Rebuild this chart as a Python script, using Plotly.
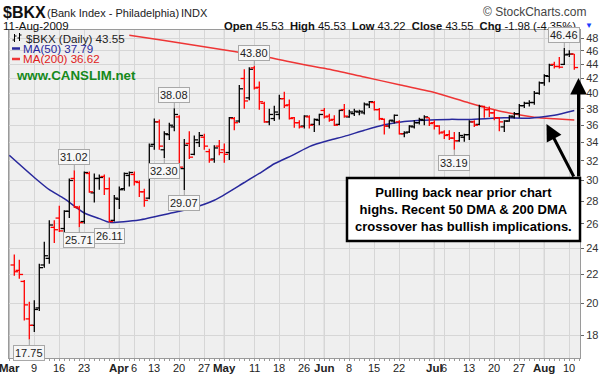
import math
import pandas as pd
import plotly.graph_objects as go

# ---------------- data ----------------
HOLIDAYS = ["2009-04-10", "2009-05-25", "2009-07-03"]
DATES = [d.strftime("%Y-%m-%d") for d in pd.bdate_range("2009-03-03", "2009-08-11")
         if d.strftime("%Y-%m-%d") not in HOLIDAYS]

OPEN = [22.7, 22.3, 21.5, 19.0, 18.6, 19.7, 22.7, 23.2, 25.7, 26.5,
        25.6, 27.1, 30.2, 27.4, 26.2, 30.7, 28.8, 30.2, 30.4, 29.2,
        26.3, 28.2, 29.2, 30.5, 30.6, 29.8, 28.9, 28.3, 33.8, 36.4,
        33.2, 34.9, 35.8, 37.0, 31.2, 33.9, 32.7, 34.0, 34.6, 33.0,
        32.2, 33.6, 33.2, 32.9, 36.8, 36.5, 42.0, 39.4, 43.5, 40.8,
        38.7, 36.4, 36.8, 37.3, 39.3, 38.5, 36.9, 36.3, 35.9, 37.0,
        36.1, 36.6, 37.8, 37.1, 36.7, 36.1, 37.9, 37.0, 37.4, 37.6,
        37.5, 38.5, 38.8, 37.9, 36.7, 35.9, 36.5, 36.4, 35.0, 35.2,
        35.8, 36.3, 36.6, 36.9, 36.3, 35.9, 35.2, 34.9, 34.5, 34.2,
        34.6, 34.9, 36.4, 36.1, 38.3, 37.9, 37.5, 36.9, 35.8, 36.5,
        37.0, 37.4, 38.4, 38.7, 38.8, 40.0, 41.4, 42.3, 44.0, 43.7,
        44.0, 45.5, 45.53]
HIGH = [23.5, 23.1, 21.6, 20.1, 20.2, 22.8, 24.5, 26.3, 26.3, 27.6,
        27.2, 30.2, 31.02, 27.6, 30.9, 30.9, 30.7, 30.6, 30.6, 30.3,
        28.6, 29.4, 30.8, 30.9, 30.9, 30.0, 29.2, 33.9, 36.8, 36.7,
        35.3, 36.3, 38.08, 37.2, 34.4, 35.3, 34.8, 35.2, 35.0, 33.3,
        33.7, 34.3, 33.9, 37.0, 37.0, 41.1, 43.3, 43.6, 43.80, 41.6,
        38.9, 38.0, 38.4, 39.8, 40.2, 39.2, 37.0, 36.6, 37.2, 37.2,
        36.8, 37.4, 38.1, 37.4, 37.2, 37.9, 38.6, 37.9, 38.0, 37.9,
        38.8, 39.0, 39.0, 38.1, 36.8, 36.6, 37.3, 36.6, 35.3, 36.0,
        36.6, 36.9, 37.2, 36.9, 36.6, 36.0, 35.4, 35.4, 35.2, 35.2,
        35.0, 36.6, 36.6, 38.5, 38.4, 38.3, 37.85, 37.0, 36.6, 37.2,
        37.6, 38.6, 38.9, 39.1, 40.3, 41.6, 42.6, 44.1, 44.4, 45.1,
        46.46, 46.1, 45.53]
LOW = [21.9, 21.7, 18.9, 17.75, 18.2, 19.5, 22.5, 22.8, 24.4, 25.3,
       24.9, 26.5, 27.4, 25.71, 26.0, 28.8, 27.9, 29.1, 28.6, 26.11,
       26.2, 27.3, 29.0, 29.4, 29.5, 28.4, 27.5, 28.2, 33.2, 33.2,
       32.30, 34.3, 35.3, 31.3, 29.07, 32.2, 32.6, 33.5, 33.2, 31.8,
       31.8, 32.6, 31.8, 32.1, 35.4, 36.3, 38.0, 39.1, 40.5, 37.9,
       36.3, 36.0, 36.5, 36.7, 38.1, 36.7, 35.7, 35.6, 35.6, 35.6,
       35.2, 36.0, 36.8, 36.4, 35.9, 36.0, 36.9, 36.9, 37.1, 37.2,
       37.3, 38.1, 37.8, 36.6, 34.9, 35.6, 36.2, 34.9, 34.6, 35.1,
       35.6, 36.1, 36.0, 35.9, 35.5, 34.9, 34.4, 34.3, 33.19, 34.1,
       34.1, 34.3, 35.8, 36.0, 36.9, 37.0, 36.6, 35.3, 35.2, 36.4,
       36.8, 36.9, 38.1, 38.3, 38.5, 39.8, 41.0, 41.5, 43.4, 43.4,
       43.9, 45.1, 43.22]
CLOSE = [22.2, 22.0, 19.9, 18.6, 19.6, 22.5, 23.4, 25.9, 25.5, 25.4,
         27.1, 30.0, 27.5, 26.1, 30.8, 28.9, 30.2, 30.3, 29.2, 26.2,
         28.3, 29.1, 30.7, 30.8, 29.9, 28.9, 28.1, 33.6, 36.4, 33.6,
         35.0, 36.0, 37.3, 31.35, 33.7, 32.4, 34.3, 34.8, 33.6, 32.1,
         33.4, 32.9, 32.7, 36.9, 36.3, 40.6, 39.0, 43.3, 40.7, 38.9,
         36.4, 37.3, 37.6, 39.3, 38.4, 36.8, 36.3, 35.8, 37.1, 36.0,
         36.7, 37.3, 37.0, 36.6, 36.0, 37.8, 37.1, 37.6, 37.7, 37.7,
         38.6, 38.9, 37.9, 36.8, 35.9, 36.6, 37.2, 35.0, 35.1, 35.9,
         36.3, 36.7, 37.0, 36.2, 35.9, 35.1, 34.8, 34.5, 34.2, 34.8,
         34.9, 36.4, 36.0, 38.3, 37.9, 37.5, 36.9, 36.4, 36.5, 37.1,
         37.4, 38.4, 38.7, 38.8, 40.0, 41.4, 42.4, 43.9, 43.7, 43.6,
         45.4, 45.53, 43.55]
PREV_CLOSE = 22.8  # close of the session before the first bar

MA50_DATES = ["2009-03-02", "2009-03-09", "2009-03-12", "2009-03-17", "2009-03-23",
              "2009-03-26", "2009-03-30", "2009-04-07", "2009-04-16", "2009-04-22",
              "2009-04-29", "2009-05-07", "2009-05-12", "2009-05-15", "2009-05-21",
              "2009-05-27", "2009-06-02", "2009-06-05", "2009-06-11", "2009-06-17",
              "2009-06-23", "2009-06-29", "2009-07-07", "2009-07-13", "2009-07-22",
              "2009-07-29", "2009-08-05", "2009-08-11"]
MA50 = [32.6, 30.3, 29.1, 28.25, 26.95, 26.45, 26.13, 26.33, 26.9, 27.3,
        28.1, 29.8, 30.7, 31.7, 32.7, 33.55, 34.25, 34.7, 35.4, 36.05,
        36.45, 36.6, 36.7, 36.7, 36.9, 36.85, 37.2, 37.79]

MA200_DATES = ["2009-04-03", "2009-04-15", "2009-04-24", "2009-05-05", "2009-05-13",
               "2009-05-26", "2009-06-02", "2009-06-11", "2009-06-22", "2009-07-01",
               "2009-07-13", "2009-07-22", "2009-07-30", "2009-08-05", "2009-08-11"]
MA200 = [48.45, 47.6, 46.75, 45.9, 45.15, 43.95, 43.3, 42.2, 41.15, 40.1,
         38.75, 37.6, 36.97, 36.77, 36.62]

TICK_DATES = ["2009-03-02", "2009-03-09", "2009-03-16", "2009-03-23", "2009-04-01",
              "2009-04-06", "2009-04-13", "2009-04-20", "2009-04-27", "2009-05-01",
              "2009-05-11", "2009-05-18", "2009-05-26", "2009-06-01", "2009-06-08",
              "2009-06-15", "2009-06-22", "2009-07-01", "2009-07-06", "2009-07-13",
              "2009-07-20", "2009-07-27", "2009-08-03", "2009-08-10"]
TICK_TEXT = ["Mar", "9", "16", "23", "Apr", "6", "13", "20", "27", "May",
             "11", "18", "26", "Jun", "8", "15", "22", "Jul", "6", "13",
             "20", "27", "Aug", "10"]
PRICE_TICKS = [18, 20, 22, 24, 26, 28, 30, 32, 34, 36, 38, 40, 42, 44, 46, 48]

# labelled highs / lows
LABEL_HIGH_DATES = ["2009-03-19", "2009-04-17", "2009-05-11", "2009-08-07"]
LABEL_LOW_DATES = ["2009-03-06", "2009-03-20", "2009-03-30", "2009-04-15",
                   "2009-04-21", "2009-07-08"]

RESISTANCE = 43.80
RESISTANCE_FROM = "2009-04-29"

NOTE = "Pulling back near prior chart<br>highs. Recent 50 DMA &amp; 200 DMA<br>crossover has bullish implications."

# ---------------- helpers ----------------
def pos(ds):
    if ds in DATES:
        return DATES.index(ds)
    later = [i for i, d in enumerate(DATES) if d > ds]
    return later[0] - 1

X_MIN, X_MAX = -1.06, 113.14
Y_MIN, Y_MAX = 16.7, 49.29
PL, PR, PT, PB = 9, 580, 30, 358
def px(x): return (x - PL) / (PR - PL)
def py(y): return (PB - y) / (PB - PT)

FONT = "Liberation Sans, Arial, sans-serif"
TW = 0.75

def bar_paths(idx):
    xs, ys = [], []
    for i in idx:
        xs += [i, i, None, i - TW, i, None, i, i + TW, None]
        ys += [LOW[i], HIGH[i], None, OPEN[i], OPEN[i], None, CLOSE[i], CLOSE[i], None]
    return xs, ys

prev = [PREV_CLOSE] + CLOSE[:-1]
red_idx = [i for i in range(len(CLOSE)) if CLOSE[i] < prev[i]]
blk_idx = [i for i in range(len(CLOSE)) if CLOSE[i] >= prev[i]]

fig = go.Figure()

# moving averages
fig.add_trace(go.Scatter(x=[pos(d) for d in MA200_DATES], y=MA200, mode="lines",
                         line=dict(color="#ee3535", width=1.5, shape="spline", smoothing=0.6),
                         hoverinfo="skip"))
fig.add_trace(go.Scatter(x=[pos(d) for d in MA50_DATES], y=MA50, mode="lines",
                         line=dict(color="#28289c", width=1.5, shape="spline", smoothing=0.6),
                         hoverinfo="skip"))

# OHLC bars
xs, ys = bar_paths(blk_idx)
fig.add_trace(go.Scatter(x=xs, y=ys, mode="lines", line=dict(color="#000000", width=1.3),
                         hoverinfo="skip"))
xs, ys = bar_paths(red_idx)
fig.add_trace(go.Scatter(x=xs, y=ys, mode="lines", line=dict(color="#ff0000", width=1.3),
                         hoverinfo="skip"))

tick_pos = [pos(d) for d in TICK_DATES]

shapes = []
# darker month gridlines
for p, t in zip(tick_pos, TICK_TEXT):
    if not t.isdigit():
        shapes.append(dict(type="line", xref="x", yref="paper", x0=p, x1=p, y0=0, y1=1,
                           line=dict(color="#b4b4b4", width=1), layer="below"))
# resistance line
shapes.append(dict(type="line", xref="x", yref="y", x0=pos(RESISTANCE_FROM), x1=X_MAX,
                   y0=math.log10(RESISTANCE), y1=math.log10(RESISTANCE),
                   line=dict(color="#000000", width=2.5), layer="above"))
# note box
shapes.append(dict(type="rect", xref="paper", yref="paper", x0=px(347), x1=px(580),
                   y0=py(241), y1=py(178), fillcolor="white",
                   line=dict(color="#000000", width=2.5), layer="above"))
# legend markers
shapes.append(dict(type="line", xref="paper", yref="paper", x0=px(12), x1=px(20),
                   y0=py(48.5), y1=py(48.5), line=dict(color="#28289c", width=2.5)))
shapes.append(dict(type="line", xref="paper", yref="paper", x0=px(12), x1=px(20),
                   y0=py(59), y1=py(59), line=dict(color="#ee3535", width=2.5)))
for cx, top, bot, lo, rc in [(14.5, 34, 42, 40, 36), (19.5, 33, 41, 38, 35)]:
    shapes.append(dict(type="line", xref="paper", yref="paper", x0=px(cx), x1=px(cx),
                       y0=py(bot), y1=py(top), line=dict(color="#000", width=1)))
    shapes.append(dict(type="line", xref="paper", yref="paper", x0=px(cx - 2), x1=px(cx),
                       y0=py(lo), y1=py(lo), line=dict(color="#000", width=1)))
    shapes.append(dict(type="line", xref="paper", yref="paper", x0=px(cx), x1=px(cx + 2),
                       y0=py(rc), y1=py(rc), line=dict(color="#000", width=1)))

ann = []
def text(x, y, s, size=12, color="#222", anchor="left", bg=None):
    d = dict(xref="paper", yref="paper", x=px(x), y=py(y), text=s, showarrow=False,
             xanchor=anchor, yanchor="middle", font=dict(family=FONT, size=size, color=color))
    if bg:
        d["bgcolor"] = bg
    ann.append(d)

last = len(CLOSE) - 1
chg = CLOSE[last] - CLOSE[last - 1]
pct = chg / CLOSE[last - 1] * 100

text(1, 12.5, "<b>$BKX</b>", 16, "#111")
text(45, 13, "(Bank Index - Philadelphia)", 11, "#222")
text(179, 13, "INDX", 11, "#222")
text(589, 11.5, "© StockCharts.com", 12, "#444", "right")
text(1, 25.5, "11-Aug-2009", 11.5, "#111")
text(578, 25.5, "<b>Open</b> %.2f  <b>High</b> %.2f  <b>Low</b> %.2f  <b>Close</b> %.2f  <b>Chg</b> %.2f (%.2f%%)"
     % (OPEN[last], HIGH[last], LOW[last], CLOSE[last], chg, pct), 11.2, "#111", "right")
text(583, 26, "▼", 8, "#1a3cff")

text(24, 38, "$BKX (Daily) %.2f" % CLOSE[last], 11.6, "#222")
text(21, 48.5, "MA(50) %.2f" % MA50[-1], 11.6, "#28289c")
text(21, 59, "MA(200) %.2f" % MA200[-1], 11.6, "#e02020")
text(14, 75, "<b>www.CANSLIM.net</b>", 13.3, "#15891a")

ann.append(dict(xref="paper", yref="paper", x=px(463.5), y=py(209.5), text="<b>" + NOTE + "</b>",
                showarrow=False, xanchor="center", yanchor="middle", align="center",
                font=dict(family=FONT, size=13, color="#000")))

# date axis labels
for p, t in zip(tick_pos, TICK_TEXT):
    ann.append(dict(xref="x", yref="paper", x=p, y=py(367.5), showarrow=False,
                    text=t if t.isdigit() else "<b>%s</b>" % t,
                    xanchor="center", yanchor="middle",
                    font=dict(family=FONT, size=11.5 if not t.isdigit() else 11, color="#222")))

# arrows
ann.append(dict(xref="paper", yref="paper", x=px(578.5), y=py(78), ax=0, ay=100,
                axref="pixel", ayref="pixel", text="", showarrow=True,
                arrowhead=2, arrowsize=1.1, arrowwidth=3, arrowcolor="#000"))
ann.append(dict(xref="paper", yref="paper", x=px(546.5), y=py(124), ax=28, ay=54,
                axref="pixel", ayref="pixel", text="", showarrow=True,
                arrowhead=2, arrowsize=1.1, arrowwidth=3, arrowcolor="#000"))

# value labels
def value_label(i, v, above):
    ann.append(dict(xref="x", yref="y", x=i, y=math.log10(v), text="%.2f" % v,
                    showarrow=True, arrowhead=0, arrowwidth=1, arrowcolor="#a0a0a0",
                    ax=0, ay=-13 if above else 13, axref="pixel", ayref="pixel",
                    bgcolor="#f7f7f7", bordercolor="#a8a8a8", borderwidth=1, borderpad=1,
                    font=dict(family=FONT, size=11, color="#222")))

for d in LABEL_HIGH_DATES:
    i = pos(d)
    value_label(i, HIGH[i], True)
for d in LABEL_LOW_DATES:
    i = pos(d)
    value_label(i, LOW[i], False)

fig.update_layout(
    template="none", width=606, height=380,
    margin=dict(l=PL, r=606 - PR, t=PT, b=380 - PB, pad=0),
    paper_bgcolor="white", plot_bgcolor="#efefef", showlegend=False,
    font=dict(family=FONT, size=11, color="#222"),
    shapes=shapes, annotations=ann,
)
fig.update_xaxes(range=[X_MIN, X_MAX], tickmode="array", tickvals=tick_pos,
                 showticklabels=False,
                 showgrid=True, gridcolor="#d6d6d6", gridwidth=1, zeroline=False,
                 showline=True, linecolor="#9a9a9a", linewidth=1, mirror=True,
                 ticks="", automargin=False,
                 minor=dict(tickmode="linear", tick0=0, dtick=1, ticks="outside", ticklen=2,
                            tickcolor="#9a9a9a", showgrid=False))
fig.update_yaxes(type="log", range=[math.log10(Y_MIN), math.log10(Y_MAX)], side="right",
                 tickmode="array", tickvals=PRICE_TICKS, ticktext=[str(v) for v in PRICE_TICKS],
                 showgrid=True, gridcolor="#d6d6d6", gridwidth=1, zeroline=False,
                 showline=True, linecolor="#9a9a9a", linewidth=1, mirror=True,
                 ticks="outside", ticklen=3, tickcolor="#666",
                 tickfont=dict(family=FONT, size=11, color="#333"), automargin=False)

fig.write_html("out.html", config={"displayModeBar": False},
               post_script="document.body.style.margin='0';document.body.style.padding='0';")
